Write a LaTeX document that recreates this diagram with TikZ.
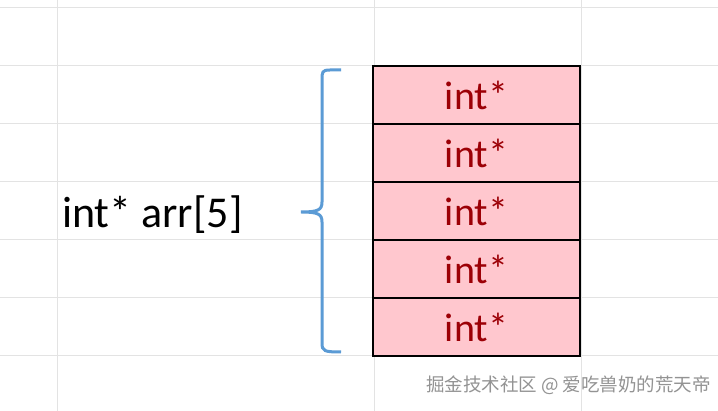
\documentclass[tikz,border=0pt]{standalone}
\usepackage{fontspec}
\setmainfont{Carlito}
\newfontfamily\cjk{Noto Sans CJK SC}
\definecolor{cellpink}{RGB}{255,199,206}
\definecolor{celltext}{RGB}{156,0,6}
\definecolor{bracecol}{RGB}{91,155,213}
\begin{document}
\begin{tikzpicture}[x=1pt,y=-1pt,
  grid/.style={draw=gray!22,line width=1pt},
  cellbox/.style={draw=black,line width=2pt,fill=cellpink,minimum width=207pt,minimum height=58pt,inner sep=0pt,font=\fontsize{40}{42}\selectfont,text=celltext},
  brace/.style={draw=bracecol,line width=3pt}]
\useasboundingbox (0,0) rectangle (718,411);
\fill[white] (0,0) rectangle (718,411);
\foreach \y in {8,66,124,182,240,298,356} \draw[grid] (0,\y) -- (718,\y);
\foreach \x in {57,374,581} \draw[grid] (\x,0) -- (\x,411);
\foreach \i in {0,...,4} \node[cellbox] (c\i) at (476.5,{95+58*\i}) {int*};
\node[anchor=west,font=\fontsize{44}{46}\selectfont,inner sep=0pt] (lab) at (62,215) {int* arr[5]};
\draw[brace] (341,70) -- (330,70) .. controls (322,70) and (322,72) .. (322,80) -- (322,202) .. controls (322,210) and (318,212) .. (301,212) .. controls (318,212) and (322,214) .. (322,222) -- (322,343) .. controls (322,351) and (324,352) .. (341,352);
\node[anchor=west,text=gray!85,font=\cjk\fontsize{18.5}{20}\selectfont,inner sep=0pt] (wm) at (426,385) {掘金技术社区 @ 爱吃兽奶的荒天帝};
\end{tikzpicture}
\end{document}
